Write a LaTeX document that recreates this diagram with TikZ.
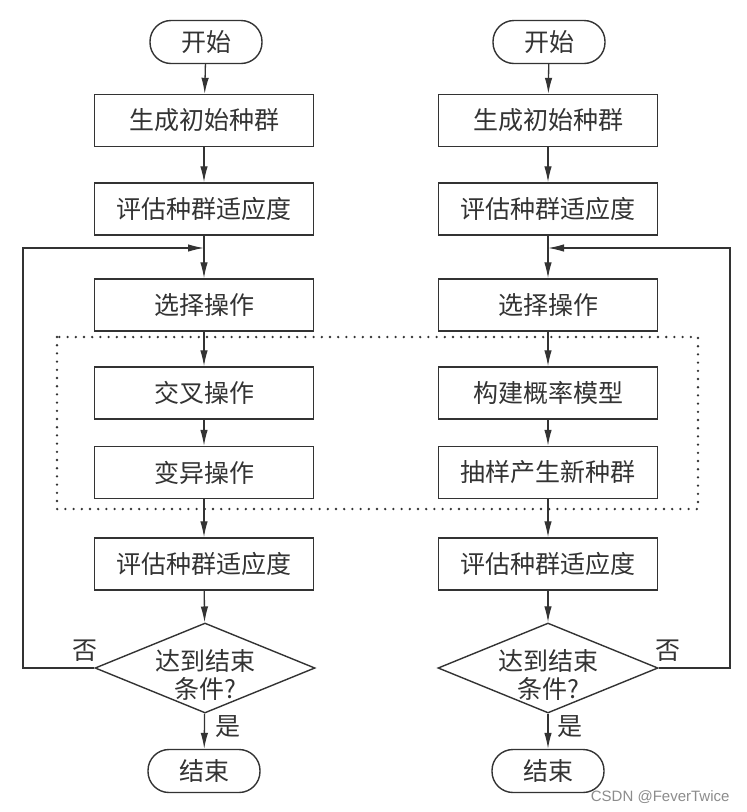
\documentclass[tikz,border=0pt]{standalone}
\usepackage{fontspec}
\newfontfamily\cjk{Noto Sans CJK SC}
\setsansfont{Liberation Sans}
\usetikzlibrary{arrows.meta,shapes.geometric}
\definecolor{ink}{HTML}{333333}
\begin{document}
\begin{tikzpicture}[x=1pt,y=-1pt,
  every node/.style={text=ink},
  txt/.style={font=\cjk\fontsize{25}{28}\selectfont},
  procbox/.style={txt,draw=ink,line width=1.4pt,rectangle,minimum width=219pt,minimum height=52pt,inner sep=0pt},
  termbox/.style={txt,draw=ink,line width=1.4pt,rectangle,rounded corners=21pt,minimum width=112pt,minimum height=43pt,inner sep=0pt},
  decbox/.style={draw=ink,line width=1.4pt,diamond,minimum width=220pt,minimum height=90pt,inner sep=0pt},
  flow/.style={draw=ink,line width=1.3pt,-{Latex[length=16pt,width=7.5pt]}},
  dotbox/.style={draw=ink,line width=2.6pt,line cap=round,dash pattern=on 0pt off 8.2pt}
]
\useasboundingbox (0,0) rectangle (747,812);
\fill[white] (0,0) rectangle (747,812);

% dotted group
\draw[dotbox] (57,337) rectangle (698,509);

% ===== left column =====
\node[termbox] (ls)  at (206,42) {开始};
\node[procbox] (l1)  at (204,120.5) {生成初始种群};
\node[procbox] (l2)  at (204,209) {评估种群适应度};
\node[procbox] (l3)  at (204,305) {选择操作};
\node[procbox] (l4)  at (204,393) {交叉操作};
\node[procbox] (l5)  at (204,472.5) {变异操作};
\node[procbox] (l6)  at (204,564) {评估种群适应度};
\node[decbox]  (ld)  at (205,668) {};
\node[txt,align=center] (ldt) at (205,675) {达到结束\\条件?};
\node[termbox] (le)  at (204,771) {结束};
\coordinate (lm) at (204,248);
\coordinate (lx) at (23,248);
\node[txt] (lno)  at (85,651) {否};
\node[txt] (lyes) at (228,727) {是};

\draw[flow] (ls) -- (l1);
\draw[flow] (l1) -- (l2);
\draw[flow] (l2) -- (l3);
\draw[flow] (l3) -- (l4);
\draw[flow] (l4) -- (l5);
\draw[flow] (l5) -- (l6);
\draw[flow] (l6) -- (ld);
\draw[flow] (ld) -- (le);
\draw[flow] (ld.west) -| (lx) -- (lm);

% ===== right column =====
\node[termbox] (rs)  at (549,42) {开始};
\node[procbox] (r1)  at (548,120.5) {生成初始种群};
\node[procbox] (r2)  at (548,209) {评估种群适应度};
\node[procbox] (r3)  at (548,305) {选择操作};
\node[procbox] (r4)  at (548,393) {构建概率模型};
\node[procbox] (r5)  at (548,472.5) {抽样产生新种群};
\node[procbox] (r6)  at (548,564) {评估种群适应度};
\node[decbox]  (rd)  at (548,668) {};
\node[txt,align=center] (rdt) at (548,675) {达到结束\\条件?};
\node[termbox] (re)  at (548,771) {结束};
\coordinate (rm) at (548,248);
\coordinate (rx) at (730,248);
\node[txt] (rno)  at (668,651) {否};
\node[txt] (ryes) at (570,727) {是};

\draw[flow] (rs) -- (r1);
\draw[flow] (r1) -- (r2);
\draw[flow] (r2) -- (r3);
\draw[flow] (r3) -- (r4);
\draw[flow] (r4) -- (r5);
\draw[flow] (r5) -- (r6);
\draw[flow] (r6) -- (rd);
\draw[flow] (rd) -- (re);
\draw[flow] (rd.east) -| (rx) -- (rm);

% watermark
\node[font=\sffamily\fontsize{15}{18}\selectfont,text=black!45,anchor=east] (wm) at (733,797) {CSDN @FeverTwice};
\end{tikzpicture}
\end{document}
